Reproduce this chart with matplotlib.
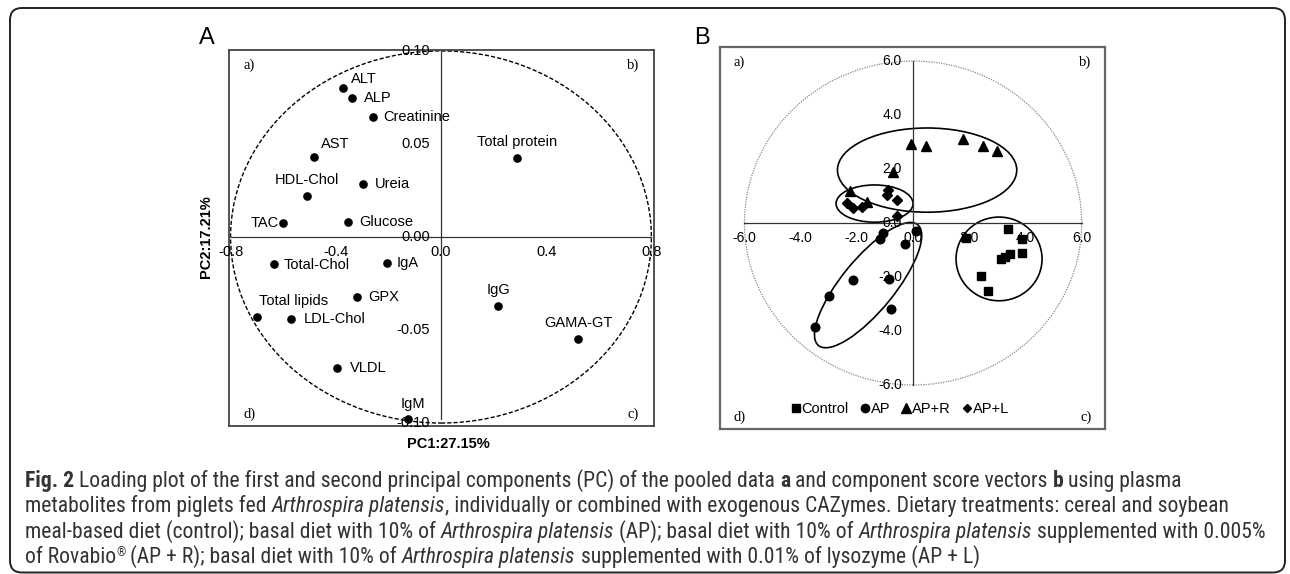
import matplotlib
matplotlib.use("Agg")
import matplotlib.pyplot as plt
from matplotlib.patches import Ellipse, FancyBboxPatch
from matplotlib.lines import Line2D
from matplotlib import font_manager

# ---- Panel A: loading plot (PC1 vs PC2) ----
load_names = ["ALT", "ALP", "Creatinine", "AST", "HDL-Chol", "Ureia", "TAC",
              "Glucose", "Total protein", "Total-Chol", "IgA", "GPX",
              "Total lipids", "LDL-Chol", "VLDL", "IgM", "IgG", "GAMA-GT"]
load_pc1 = [-0.373, -0.338, -0.259, -0.483, -0.510, -0.297, -0.600, -0.354,
            0.289, -0.635, -0.205, -0.320, -0.700, -0.570, -0.395, -0.125,
            0.217, 0.521]
load_pc2 = [0.080, 0.0747, 0.0645, 0.043, 0.022, 0.0285, 0.0075, 0.008,
            0.0425, -0.0145, -0.014, -0.032, -0.043, -0.044, -0.0705, -0.098,
            -0.037, -0.055]
# label placement: (dx px, dy px, ha)
load_label_pos = [(8, 9, "left"), (12, 0, "left"), (10, 0, "left"),
                  (21, 13, "center"), (0, 16, "center"), (12, 0, "left"),
                  (-4, 0, "right"), (11, 0, "left"), (0, 16, "center"),
                  (10, -1, "left"), (10, 0, "left"), (11, 0, "left"),
                  (2, 16, "left"), (13, 0, "left"), (13, 0, "left"),
                  (5, 15, "center"), (0, 16, "center"), (0, 16, "center")]
a_xticks = [-0.8, -0.4, 0.0, 0.4, 0.8]
a_xticklabels = ["-0.8", "-0.4", "0.0", "0.4", "0.8"]
a_yticks = [0.10, 0.05, 0.00, -0.05, -0.10]
a_yticklabels = ["0.10", "0.05", "0.00", "-0.05", "-0.10"]

# ---- Panel B: component scores ----
control_x = [3.38, 1.89, 3.88, 3.88, 3.45, 3.27, 3.13, 2.42, 2.67]
control_y = [-0.21, -0.57, -0.60, -1.12, -1.16, -1.25, -1.34, -1.95, -2.50]
ap_x = [0.10, -1.07, -1.17, -0.28, -2.13, -0.85, -0.78, -2.99, -3.49]
ap_y = [-0.30, -0.37, -0.60, -0.79, -2.11, -2.07, -3.19, -2.70, -3.85]
apr_x = [-0.07, 0.46, 1.78, 2.49, 2.99, -0.71, -2.24, -1.64]
apr_y = [2.93, 2.86, 3.10, 2.85, 2.67, 1.90, 1.19, 0.78]
apl_x = [-0.89, -0.93, -0.57, -0.57, -2.35, -2.13, -1.80]
apl_y = [1.22, 1.04, 0.85, 0.26, 0.74, 0.55, 0.58]
# group ellipses: AP+R, AP+L, AP, Control
ell_cx = [0.50, -1.37, -1.60, 3.06]
ell_cy = [1.96, 0.72, -2.30, -1.33]
ell_w = [6.38, 2.74, 5.70, 3.06]
ell_h = [3.12, 1.38, 1.90, 3.10]
ell_ang = [0, 0, 52, 0]
b_ticks = [-6.0, -4.0, -2.0, 0.0, 2.0, 4.0, 6.0]
b_ticklabels = ["-6.0", "-4.0", "-2.0", "0.0", "2.0", "4.0", "6.0"]

W, H = 1290, 574
fig = plt.figure(figsize=(W / 100, H / 100), dpi=100)

sans = "Liberation Sans"
serif = "Liberation Serif"


def px_box(l, t, r, b):
    return [l / W, 1 - b / H, (r - l) / W, (b - t) / H]


def quadrant_labels(ax):
    kw = dict(transform=ax.transAxes, family=serif, fontsize=10.5)
    ax.text(0.035, 0.96, "a)", ha="left", va="center", **kw)
    ax.text(0.965, 0.96, "b)", ha="right", va="center", **kw)
    ax.text(0.965, 0.03, "c)", ha="right", va="center", **kw)
    ax.text(0.035, 0.03, "d)", ha="left", va="center", **kw)


# ---------------- Panel A ----------------
axA = fig.add_axes(px_box(229, 50, 654, 426))
axA.set_xlim(-0.806, 0.810)
axA.set_ylim(-0.1016, 0.1005)
axA.set_xticks([])
axA.set_yticks([])
for s in axA.spines.values():
    s.set_color("#444444")
    s.set_linewidth(1.3)

axA.add_patch(Ellipse((0, 0), 1.6, 0.2, fill=False, ec="black", lw=1.0,
                      linestyle=(0, (3, 1.5))))
axA.plot([-0.8, 0.8], [0, 0], color="#333333", lw=0.9)
axA.plot([0, 0], [-0.098, 0.10], color="#333333", lw=0.9)

for v, lab in zip(a_xticks, a_xticklabels):
    axA.annotate(lab, (v, 0), xytext=(0, -11), textcoords="offset points",
                 ha="center", va="center", family=sans, fontsize=10.5)
for v, lab in zip(a_yticks, a_yticklabels):
    axA.annotate(lab, (0, v), xytext=(-8, 0), textcoords="offset points",
                 ha="right", va="center", family=sans, fontsize=10.5)

axA.plot(load_pc1, load_pc2, "o", color="black", ms=5.2, ls="none")
for name, x, y, (dx, dy, ha) in zip(load_names, load_pc1, load_pc2,
                                     load_label_pos):
    axA.annotate(name, (x, y), xytext=(dx * 0.72, dy * 0.72),
                 textcoords="offset points", ha=ha, va="center",
                 family=sans, fontsize=10.5)

quadrant_labels(axA)
fig.text(448 / W, 1 - 444 / H, "PC1:27.15%", ha="center", va="center",
         family=sans, fontsize=10.5, weight="bold")
fig.text(206 / W, 1 - 237 / H, "PC2:17.21%", ha="center", va="center",
         family=sans, fontsize=10.5, weight="bold", rotation=90)
fig.text(207 / W, 1 - 38 / H, "A", ha="center", va="center",
         family=sans, fontsize=17)

# ---------------- Panel B ----------------
axB = fig.add_axes(px_box(720, 47, 1105, 429))
axB.set_xlim(-6.87, 6.83)
axB.set_ylim(-7.63, 6.52)
axB.set_xticks([])
axB.set_yticks([])
for s in axB.spines.values():
    s.set_color("#666666")
    s.set_linewidth(1.6)

axB.add_patch(Ellipse((0, 0), 12, 12, fill=False, ec="#888888", lw=0.9,
                      linestyle=(0, (1, 1))))
axB.plot([-6, 6], [0, 0], color="#333333", lw=0.9)
axB.plot([0, 0], [-6, 6], color="#333333", lw=0.9)
for v, lab in zip(b_ticks, b_ticklabels):
    axB.annotate(lab, (v, 0), xytext=(0, -11), textcoords="offset points",
                 ha="center", va="center", family=sans, fontsize=10)
    axB.annotate(lab, (0, v), xytext=(-8, 0), textcoords="offset points",
                 ha="right", va="center", family=sans, fontsize=10)

for cx, cy, w, h, a in zip(ell_cx, ell_cy, ell_w, ell_h, ell_ang):
    axB.add_patch(Ellipse((cx, cy), w, h, angle=a, fill=False,
                          ec="black", lw=1.2))

axB.plot(control_x, control_y, "s", color="black", ms=6.2, ls="none")
axB.plot(ap_x, ap_y, "o", color="black", ms=6.2, ls="none")
axB.plot(apr_x, apr_y, "^", color="black", ms=7, ls="none")
axB.plot(apl_x, apl_y, "D", color="black", ms=4.8, ls="none")

handles = [Line2D([], [], marker="s", color="black", ls="none", ms=6),
           Line2D([], [], marker="o", color="black", ls="none", ms=6),
           Line2D([], [], marker="^", color="black", ls="none", ms=6.5),
           Line2D([], [], marker="D", color="black", ls="none", ms=4.5)]
axB.legend(handles, ["Control", "AP", "AP+R", "AP+L"], ncol=4,
           loc="center", bbox_to_anchor=(0.468, 0.052), frameon=False,
           handlelength=0.6, handletextpad=0.1, columnspacing=0.8,
           prop={"family": sans, "size": 10.5}, borderpad=0)

quadrant_labels(axB)
fig.text(702 / W, 1 - 38 / H, "B", ha="center", va="center",
         family=sans, fontsize=17)

# ---------------- outer frame ----------------
fig.patches.append(FancyBboxPatch(
    (0.10, 0.015), 12.75, 5.645, boxstyle="round,pad=0,rounding_size=0.12",
    transform=fig.dpi_scale_trans, fill=False, ec="#222222", lw=1.4))

# ---------------- caption ----------------
names = {f.name for f in font_manager.fontManager.ttflist}
cap_family = sans
for cand in ["Liberation Sans Narrow", "Roboto Condensed", "Open Sans Condensed"]:
    if cand in names:
        cap_family = cand
        break

caption = [
    [("Fig. 2", "bold"),
     (" Loading plot of the first and second principal components (PC) of the pooled data ", "normal"),
     ("a", "bold"), (" and component score vectors ", "normal"), ("b", "bold"),
     (" using plasma", "normal")],
    [("metabolites from piglets fed ", "normal"), ("Arthrospira platensis", "italic"),
     (", individually or combined with exogenous CAZymes. Dietary treatments: cereal and soybean", "normal")],
    [("meal-based diet (control); basal diet with 10% of ", "normal"),
     ("Arthrospira platensis", "italic"), (" (AP); basal diet with 10% of ", "normal"),
     ("Arthrospira platensis", "italic"), (" supplemented with 0.005%", "normal")],
    [("of Rovabio", "normal"), ("®", "sup"), (" (AP + R); basal diet with 10% of ", "normal"),
     ("Arthrospira platensis", "italic"),
     (" supplemented with 0.01% of lysozyme (AP + L)", "normal")],
]
cap_baselines = [487, 512, 538, 563]

renderer = fig.canvas.get_renderer()


def run_kw(style, size):
    kw = dict(family=cap_family, fontsize=size, color="#333333")
    if style == "bold":
        kw["weight"] = "bold"
    elif style == "italic":
        kw["style"] = "italic"
    elif style == "sup":
        kw["fontsize"] = size * 0.55
    return kw


def width_px(s, kw):
    t = fig.text(0, 0, s, **kw)
    w = t.get_window_extent(renderer).width
    t.remove()
    return w


def layout_line(runs, size, x0, base, draw):
    kw0 = run_kw("normal", size)
    space = width_px("a a", kw0) - width_px("aa", kw0)
    x = x0
    for txt, style in runs:
        kw = run_kw(style, size)
        lead = len(txt) - len(txt.lstrip(" "))
        trail = len(txt) - len(txt.rstrip(" "))
        core = txt.strip(" ")
        x += lead * space
        if draw:
            y = base - (7 if style == "sup" else 0)
            fig.text(x / W, 1 - y / H, core, ha="left", va="baseline", **kw)
        x += width_px(core, kw)
        x += trail * space
    return x


base_size = 10.0
w3 = layout_line(caption[2], base_size, 0, 0, False)
cap_size = base_size * 1235 / w3
for runs, b in zip(caption, cap_baselines):
    layout_line(runs, cap_size, 25, b, True)

fig.savefig("out.png", dpi=100)
